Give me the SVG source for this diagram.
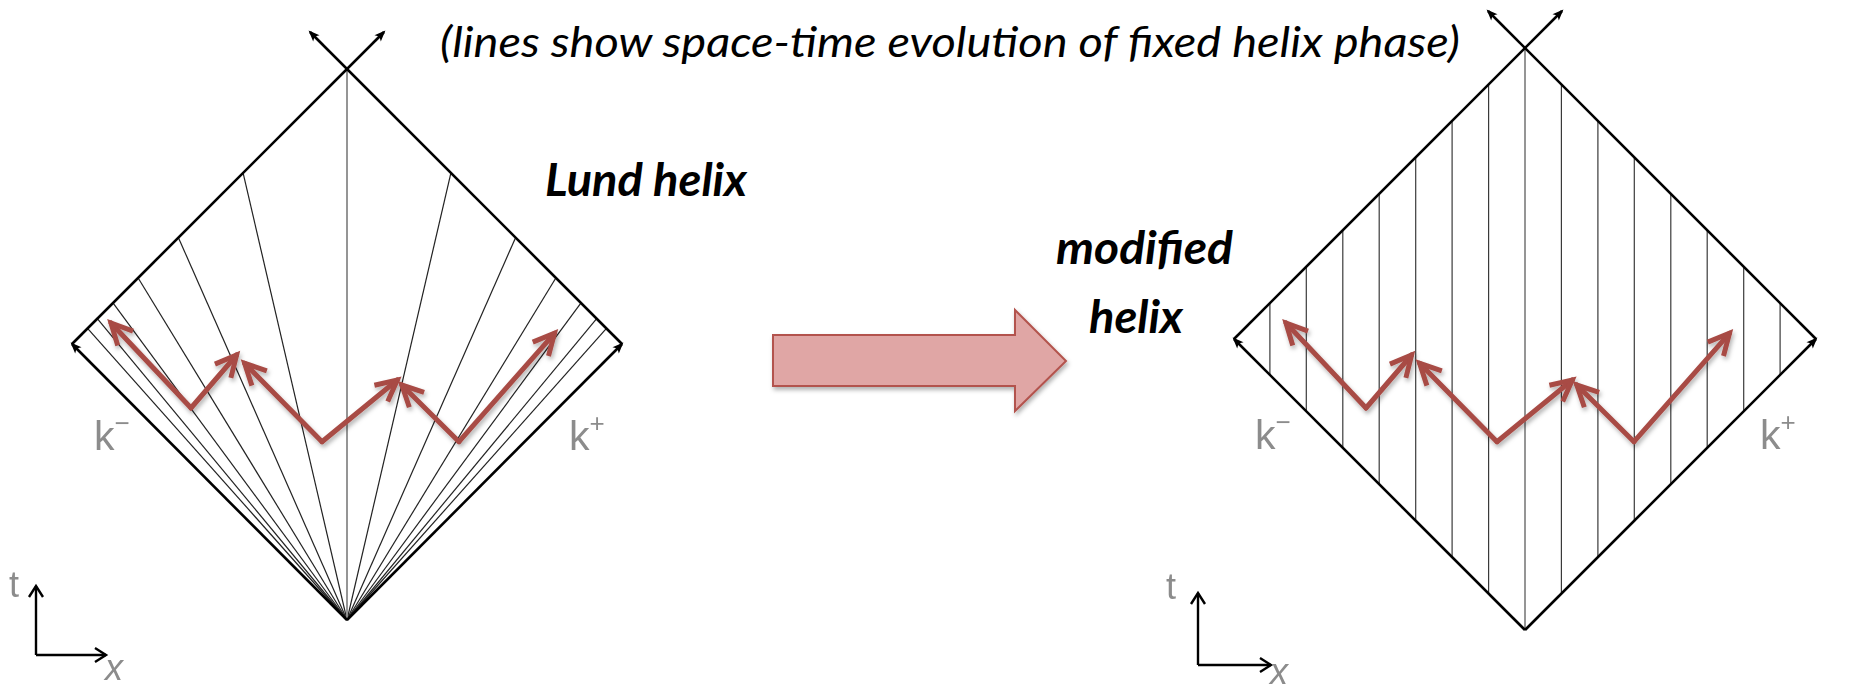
<svg xmlns="http://www.w3.org/2000/svg" width="1871" height="690" viewBox="0 0 1871 690">
  <style>
    .edge { stroke: #000; stroke-width: 2.6; fill: none; }
    .fan { stroke: #222; stroke-width: 1.2; fill: none; }
    .mid { stroke: #8a8a8a; stroke-width: 1.8; fill: none; }
    .vert { stroke: #3a3a3a; stroke-width: 1.2; fill: none; }
    .zig { stroke: #a84b45; stroke-width: 5; fill: none; stroke-linecap: round; }
    .axis { stroke: #000; stroke-width: 2.4; fill: none; }
    .head { font-family: Lato, "Open Sans", "Liberation Sans", sans-serif; font-style: italic; fill: #000; }
    .label { font-family: Lato, "Open Sans", "Liberation Sans", sans-serif; font-style: italic; font-weight: bold; font-size: 45px; fill: #000; }
    .kl { font-family: "Liberation Sans", Arial, sans-serif; font-size: 41px; fill: #8c8c8c; }
    .ax { font-family: "Liberation Sans", Arial, sans-serif; font-size: 36px; fill: #8c8c8c; }
  </style>
  <defs>
    <marker id="tip" markerUnits="userSpaceOnUse" markerWidth="1" markerHeight="1" refX="0" refY="0" orient="auto" overflow="visible">
      <path d="M2,0 L-9,-4.5 L-6.5,0 L-9,4.5 Z" fill="#000"/>
    </marker>
    <marker id="open" markerUnits="userSpaceOnUse" markerWidth="1" markerHeight="1" refX="0" refY="0" orient="auto" overflow="visible">
      <path d="M-11,-7 L0,0 L-11,7" fill="none" stroke="#000" stroke-width="2.4"/>
    </marker>
    <marker id="redhead" markerUnits="userSpaceOnUse" markerWidth="1" markerHeight="1" refX="0" refY="0" orient="auto" overflow="visible">
      <path d="M-21,-10.5 L0,0 L-21,10.5" fill="none" stroke="#a84b45" stroke-width="5" stroke-linejoin="miter"/>
    </marker>
    <filter id="shadow" x="-10%" y="-20%" width="130%" height="150%">
      <feDropShadow dx="1.5" dy="3" stdDeviation="2" flood-color="#000" flood-opacity="0.3"/>
    </filter>
    <filter id="soft" x="-20%" y="-20%" width="140%" height="140%">
      <feGaussianBlur stdDeviation="0.7"/>
    </filter>
  </defs>

  <!-- heading -->
  <g id="title">
    <text class="head" x="440" y="57" font-size="42" textLength="1020" lengthAdjust="spacingAndGlyphs">(lines show space-time evolution of fixed helix phase)</text>
  </g>

  <!-- light cone with Lund helix phase lines (constant rapidity rays) -->
  <g id="lund-diagram">
    <line class="fan" x1="347" y1="620" x2="242.9" y2="172.1"/>
    <line class="fan" x1="347" y1="620" x2="178.1" y2="236.9"/>
    <line class="fan" x1="347" y1="620" x2="137.7" y2="277.3"/>
    <line class="fan" x1="347" y1="620" x2="112.6" y2="302.4"/>
    <line class="fan" x1="347" y1="620" x2="96.9" y2="318.1"/>
    <line class="fan" x1="347" y1="620" x2="87.1" y2="327.9"/>
    <line class="fan" x1="347" y1="620" x2="451.1" y2="172.1"/>
    <line class="fan" x1="347" y1="620" x2="515.9" y2="236.9"/>
    <line class="fan" x1="347" y1="620" x2="556.3" y2="277.3"/>
    <line class="fan" x1="347" y1="620" x2="581.4" y2="302.4"/>
    <line class="fan" x1="347" y1="620" x2="597.1" y2="318.1"/>
    <line class="fan" x1="347" y1="620" x2="606.9" y2="327.9"/>
    <line class="mid" x1="347" y1="620" x2="347" y2="68"/>
    <line class="edge" x1="347" y1="620" x2="72" y2="344" marker-end="url(#tip)"/>
    <line class="edge" x1="347" y1="620" x2="622" y2="344" marker-end="url(#tip)"/>
    <line class="edge" x1="72" y1="344" x2="384" y2="32" marker-end="url(#tip)"/>
    <line class="edge" x1="622" y1="344" x2="310" y2="32" marker-end="url(#tip)"/>
    <text class="kl" x="94" y="450" filter="url(#soft)">k<tspan dy="-18" font-size="26">−</tspan></text>
    <text class="kl" x="569" y="450" filter="url(#soft)">k<tspan dy="-18" font-size="26">+</tspan></text>
  </g>

  <g id="lund-axes">
    <line class="axis" x1="36" y1="655" x2="36" y2="586" marker-end="url(#open)"/>
    <line class="axis" x1="36" y1="655" x2="106" y2="655" marker-end="url(#open)"/>
    <text class="ax" x="9" y="597" filter="url(#soft)">t</text>
    <text class="ax" x="105" y="680" font-style="italic" filter="url(#soft)">x</text>
  </g>

  <g id="lund-label">
    <text class="label" x="545" y="196" textLength="202" lengthAdjust="spacingAndGlyphs">Lund helix</text>
  </g>

  <!-- transition arrow -->
  <g id="transition-arrow">
    <polygon points="773,335 1015,335 1015,310 1066,361 1015,411 1015,386 773,386" fill="#e0a6a5" stroke="#b3534d" stroke-width="2" filter="url(#shadow)"/>
  </g>

  <g id="modified-label">
    <text class="label" x="1056" y="264" textLength="177" lengthAdjust="spacingAndGlyphs">modified</text>
    <text class="label" x="1089" y="333" textLength="94" lengthAdjust="spacingAndGlyphs">helix</text>
  </g>

  <!-- light cone with evenly spaced vertical phase lines -->
  <g id="modified-diagram">
    <line class="vert" x1="1269.9" y1="303.1" x2="1269.9" y2="374.9"/>
    <line class="vert" x1="1306.3" y1="266.7" x2="1306.3" y2="411.3"/>
    <line class="vert" x1="1342.8" y1="230.2" x2="1342.8" y2="447.8"/>
    <line class="vert" x1="1379.2" y1="193.8" x2="1379.2" y2="484.2"/>
    <line class="vert" x1="1415.7" y1="157.3" x2="1415.7" y2="520.7"/>
    <line class="vert" x1="1452.1" y1="120.9" x2="1452.1" y2="557.1"/>
    <line class="vert" x1="1488.6" y1="84.4" x2="1488.6" y2="593.6"/>
    <line class="mid" x1="1525" y1="48" x2="1525" y2="630"/>
    <line class="vert" x1="1561.4" y1="84.4" x2="1561.4" y2="593.6"/>
    <line class="vert" x1="1597.9" y1="120.9" x2="1597.9" y2="557.1"/>
    <line class="vert" x1="1634.3" y1="157.3" x2="1634.3" y2="520.7"/>
    <line class="vert" x1="1670.8" y1="193.8" x2="1670.8" y2="484.2"/>
    <line class="vert" x1="1707.2" y1="230.2" x2="1707.2" y2="447.8"/>
    <line class="vert" x1="1743.7" y1="266.7" x2="1743.7" y2="411.3"/>
    <line class="vert" x1="1780.1" y1="303.1" x2="1780.1" y2="374.9"/>
    <line class="edge" x1="1525" y1="630" x2="1234" y2="339" marker-end="url(#tip)"/>
    <line class="edge" x1="1525" y1="630" x2="1816" y2="339" marker-end="url(#tip)"/>
    <line class="edge" x1="1234" y1="339" x2="1562" y2="11" marker-end="url(#tip)"/>
    <line class="edge" x1="1816" y1="339" x2="1488" y2="11" marker-end="url(#tip)"/>
    <text class="kl" x="1255" y="449" filter="url(#soft)">k<tspan dy="-18" font-size="26">−</tspan></text>
    <text class="kl" x="1760" y="449" filter="url(#soft)">k<tspan dy="-18" font-size="26">+</tspan></text>
  </g>

  <g id="modified-axes">
    <line class="axis" x1="1198" y1="665" x2="1198" y2="593" marker-end="url(#open)"/>
    <line class="axis" x1="1198" y1="665" x2="1271" y2="665" marker-end="url(#open)"/>
    <text class="ax" x="1166" y="599" filter="url(#soft)">t</text>
    <text class="ax" x="1270" y="684" font-style="italic" filter="url(#soft)">x</text>
  </g>

  <!-- helix paths: zig-zag of string pieces -->
  <g id="connectors" filter="url(#shadow)">
    <g id="lund-zigzag">
      <line class="zig" x1="191" y1="408" x2="111" y2="323" marker-end="url(#redhead)"/>
      <line class="zig" x1="191" y1="408" x2="236.6" y2="355" marker-end="url(#redhead)"/>
      <line class="zig" x1="322" y1="441.7" x2="244.6" y2="363.3" marker-end="url(#redhead)"/>
      <line class="zig" x1="322" y1="441.7" x2="397.3" y2="380" marker-end="url(#redhead)"/>
      <line class="zig" x1="459" y1="441.7" x2="401.8" y2="385" marker-end="url(#redhead)"/>
      <line class="zig" x1="459" y1="441.7" x2="554.5" y2="333.3" marker-end="url(#redhead)"/>
    </g>
    <g id="modified-zigzag">
      <line class="zig" x1="1366" y1="408" x2="1286" y2="323" marker-end="url(#redhead)"/>
      <line class="zig" x1="1366" y1="408" x2="1411.6" y2="355" marker-end="url(#redhead)"/>
      <line class="zig" x1="1497" y1="441.7" x2="1419.6" y2="363.3" marker-end="url(#redhead)"/>
      <line class="zig" x1="1497" y1="441.7" x2="1572.3" y2="380" marker-end="url(#redhead)"/>
      <line class="zig" x1="1634" y1="441.7" x2="1576.8" y2="385" marker-end="url(#redhead)"/>
      <line class="zig" x1="1634" y1="441.7" x2="1729.5" y2="333.3" marker-end="url(#redhead)"/>
    </g>
  </g>
</svg>
